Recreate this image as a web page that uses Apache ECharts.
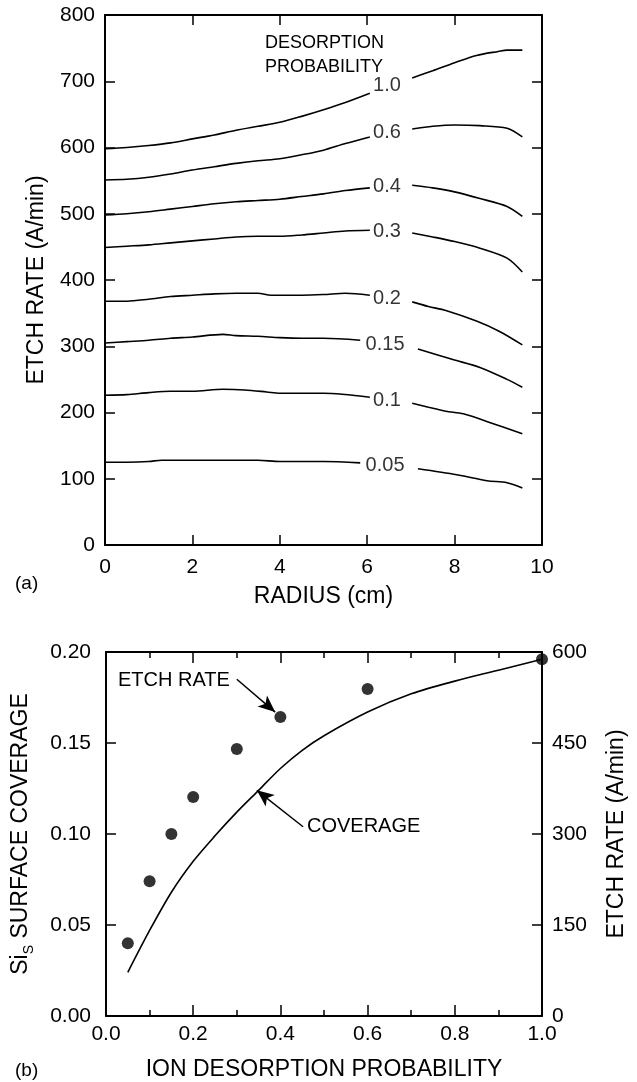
<!DOCTYPE html>
<html>
<head>
<meta charset="utf-8">
<script src="https://cdn.jsdelivr.net/npm/echarts@6/dist/echarts.min.js"></script>
<style>
html, body { margin: 0; padding: 0; background: #fff; }
#chart { width: 637px; height: 1082px; }
</style>
</head>
<body>
<div id="chart"></div>
<script>
// (a) Etch rate versus radius, one curve per desorption probability.
// Each curve is drawn in two pieces with its label in the gap.
const curveLabels = ['1.0', '0.6', '0.4', '0.3', '0.2', '0.15', '0.1', '0.05'];

const p100Inner = [[0,598],[0.5,600],[1,603],[1.5,607],[2,613],[2.5,619],[3,626],[3.5,632],[4,638],[4.5,647],[5,657],[5.5,668],[6.06,682]];
const p100Outer = [[7.03,705],[7.5,716],[8,728],[8.5,739],[9,745],[9.2,747],[9.55,747]];

const p060Inner = [[0,551],[0.5,552],[1,555],[1.5,560],[2,566],[2.5,571],[3,576],[3.5,580],[4,583],[4.5,589],[5,596],[5.5,606],[6.06,616]];
const p060Outer = [[7.03,628],[7.5,632],[8,634],[8.58,633],[9.2,629],[9.55,616]];

const p040Inner = [[0,498],[0.5,500],[1,503],[1.5,507],[2,511],[2.5,515],[3,518],[3.5,520],[4,522],[4.5,526],[5,530],[5.5,535],[6.06,539]];
const p040Outer = [[7.03,543],[7.5,539],[8,533],[8.58,523],[9.2,511],[9.55,496]];

const p030Inner = [[0,449],[0.5,451],[1,453],[1.5,456],[2,459],[2.5,462],[3,465],[3.5,466],[4,466],[4.5,468],[5,471],[5.5,474],[6.06,475]];
const p030Outer = [[7.03,471],[7.5,465],[8,458],[8.58,448],[9.2,433],[9.55,412]];

const p020Inner = [[0,368],[0.5,368],[1,371],[1.5,375],[2,377],[2.5,379],[3,380],[3.5,380],[3.8,377],[4.5,377],[5,378],[5.5,380],[6.06,377]];
const p020Outer = [[7.03,367],[7.4,360],[7.8,354],[8.5,338],[9.04,322],[9.55,302]];

const p015Inner = [[0,305],[0.5,307],[1,309],[1.5,312],[2,314],[2.7,318],[3,316],[3.5,315],[4,313],[4.5,312],[5,312],[5.84,309]];
const p015Outer = [[7.16,296],[7.96,280],[8.58,268],[9.2,250],[9.55,238]];

const p010Inner = [[0,226],[0.5,227],[1,230],[1.5,232],[2,232],[2.7,235],[3.2,234],[3.7,231],[4,229],[4.5,229],[5,229],[6.06,223]];
const p010Outer = [[7.03,214],[7.4,208],[7.8,202],[8.2,198],[8.8,185],[9.55,168]];

const p005Inner = [[0,125],[0.5,125],[1,126],[1.3,128],[2,128],[3,128],[3.5,128],[4,126],[4.5,126],[5,126],[5.84,124]];
const p005Outer = [[7.16,115],[8.05,106],[8.74,97],[9.2,94],[9.55,86]];

// (b) Etch rate and Si_s surface coverage versus ion desorption probability.
const probability = [0.05, 0.1, 0.15, 0.2, 0.3, 0.4, 0.6, 1.0];
const etchRate = [120, 222, 300, 361, 440, 493, 539, 588];

const coverageProb = [0.05, 0.10, 0.15, 0.20, 0.25, 0.30, 0.35, 0.40, 0.45, 0.50, 0.60, 0.70, 0.80, 0.90, 1.00];
const coverage = [0.024, 0.047, 0.068, 0.085, 0.099, 0.112, 0.124, 0.136, 0.146, 0.154, 0.167, 0.177, 0.184, 0.190, 0.196];

// Annotation arrows, in data units of panel (b): [tail, head]
const etchArrow = [[0.300, 0.185], [0.388, 0.167]];
const coverageArrow = [[0.452, 0.104], [0.346, 0.124]];

const curves = [
  { label: curveLabels[0], inner: p100Inner, outer: p100Outer },
  { label: curveLabels[1], inner: p060Inner, outer: p060Outer },
  { label: curveLabels[2], inner: p040Inner, outer: p040Outer },
  { label: curveLabels[3], inner: p030Inner, outer: p030Outer },
  { label: curveLabels[4], inner: p020Inner, outer: p020Outer },
  { label: curveLabels[5], inner: p015Inner, outer: p015Outer },
  { label: curveLabels[6], inner: p010Inner, outer: p010Outer },
  { label: curveLabels[7], inner: p005Inner, outer: p005Outer }
];

const FONT = '"Liberation Sans", Arial, Helvetica, sans-serif';
const INK = '#000';

const line = { show: true, onZero: false, lineStyle: { color: INK, width: 2 } };
const tick = (len) => ({ show: true, inside: true, length: len, lineStyle: { color: INK, width: 1.5 } });
const minor = { show: true, splitNumber: 2, length: 6, lineStyle: { color: INK, width: 1.5 } };
const tickText = (margin, fmt) => ({
  show: true, margin: margin, fontSize: 21, color: INK, fontFamily: FONT,
  formatter: fmt
});
const nameText = { fontSize: 23, color: INK, fontFamily: FONT };
const noLabel = { show: false };
const noSplit = { show: false };

const series = [];
curves.forEach((c) => {
  [c.inner, c.outer].forEach((seg) => {
    series.push({
      type: 'line', xAxisIndex: 0, yAxisIndex: 0,
      data: seg, showSymbol: false, smooth: 0.3,
      lineStyle: { color: INK, width: 1.6 }, silent: true
    });
  });
});

// curve labels sit in the gap between the two pieces
series.push({
  type: 'scatter', xAxisIndex: 0, yAxisIndex: 0,
  symbolSize: 0, silent: true,
  data: curves.map((c) => {
    const a = c.inner[c.inner.length - 1];
    const b = c.outer[0];
    return { name: c.label, value: [(a[0] + b[0]) / 2, (a[1] + b[1]) / 2] };
  }),
  label: {
    show: true, position: 'inside', formatter: '{b}', offset: [-4, 0],
    fontSize: 20, color: INK, fontFamily: FONT
  }
});

series.push({
  type: 'line', xAxisIndex: 2, yAxisIndex: 2,
  data: coverageProb.map((p, i) => [p, coverage[i]]),
  showSymbol: false, smooth: 0.3, silent: true,
  lineStyle: { color: INK, width: 1.6 },
  markLine: {
    silent: true, animation: false,
    symbol: ['none', 'arrow'], symbolSize: [11, 17],
    lineStyle: { color: INK, width: 1.5, type: 'solid' },
    itemStyle: { color: INK },
    label: { show: false },
    emphasis: { disabled: true },
    data: [
      [{ coord: etchArrow[0] }, { coord: etchArrow[1] }],
      [{ coord: coverageArrow[0] }, { coord: coverageArrow[1] }]
    ]
  }
});

series.push({
  type: 'scatter', xAxisIndex: 2, yAxisIndex: 3,
  data: probability.map((p, i) => [p, etchRate[i]]),
  symbol: 'circle', symbolSize: 12, silent: true, clip: false,
  itemStyle: { color: INK }
});

const option = {
  animation: false,
  backgroundColor: '#fff',
  textStyle: { fontFamily: FONT },
  grid: [
    { left: 105, width: 437, top: 15, height: 530, outerBoundsMode: 'none' },
    { left: 106, width: 436, top: 652, height: 364, outerBoundsMode: 'none' }
  ],
  xAxis: [
    {
      gridIndex: 0, type: 'value', min: 0, max: 10, interval: 2,
      axisLine: line, axisTick: tick(10), axisLabel: tickText(12), splitLine: noSplit,
      name: 'RADIUS (cm)', nameLocation: 'middle', nameGap: 40, nameTextStyle: nameText
    },
    {
      gridIndex: 0, type: 'value', position: 'top', min: 0, max: 10, interval: 2,
      axisLine: line, axisTick: tick(10), axisLabel: noLabel, splitLine: noSplit
    },
    {
      gridIndex: 1, type: 'value', min: 0, max: 1, interval: 0.2,
      axisLine: line, axisTick: tick(11), minorTick: minor,
      axisLabel: tickText(8, (v) => v.toFixed(1)), splitLine: noSplit, minorSplitLine: noSplit,
      name: 'ION DESORPTION PROBABILITY', nameLocation: 'middle', nameGap: 42, nameTextStyle: nameText
    },
    {
      gridIndex: 1, type: 'value', position: 'top', min: 0, max: 1, interval: 0.2,
      axisLine: line, axisTick: tick(11), minorTick: minor,
      axisLabel: noLabel, splitLine: noSplit, minorSplitLine: noSplit
    }
  ],
  yAxis: [
    {
      gridIndex: 0, type: 'value', min: 0, max: 800, interval: 100,
      axisLine: line, axisTick: tick(10), axisLabel: tickText(10), splitLine: noSplit,
      name: 'ETCH RATE (A/min)', nameLocation: 'middle', nameGap: 57, nameTextStyle: nameText
    },
    {
      gridIndex: 0, type: 'value', position: 'right', min: 0, max: 800, interval: 100,
      axisLine: line, axisTick: tick(10), axisLabel: noLabel, splitLine: noSplit
    },
    {
      gridIndex: 1, type: 'value', min: 0, max: 0.2, interval: 0.05,
      axisLine: line, axisTick: tick(10), axisLabel: tickText(15, (v) => v.toFixed(2)), splitLine: noSplit,
      name: '{m|Si}{s|S}{m| SURFACE COVERAGE}', nameLocation: 'middle', nameGap: 70,
      nameTextStyle: {
        color: INK, fontFamily: FONT,
        rich: {
          m: { fontSize: 23, lineHeight: 30, color: INK, fontFamily: FONT },
          s: { fontSize: 14, lineHeight: 14, verticalAlign: 'bottom', color: INK, fontFamily: FONT }
        }
      }
    },
    {
      gridIndex: 1, type: 'value', position: 'right', min: 0, max: 600, interval: 150,
      axisLine: line, axisTick: tick(10), axisLabel: tickText(10), splitLine: noSplit,
      name: 'ETCH RATE (A/min)', nameLocation: 'middle', nameGap: 63, nameTextStyle: nameText
    }
  ],
  graphic: [
    {
      type: 'text', left: 265, top: 31, silent: true,
      style: { text: 'DESORPTION\nPROBABILITY', fontSize: 18, lineHeight: 24, fill: INK, fontFamily: FONT }
    },
    {
      type: 'text', left: 118, top: 670, silent: true,
      style: { text: 'ETCH RATE', fontSize: 20, fill: INK, fontFamily: FONT }
    },
    {
      type: 'text', left: 307, top: 816, silent: true,
      style: { text: 'COVERAGE', fontSize: 20, fill: INK, fontFamily: FONT }
    },
    {
      type: 'text', left: 15, top: 574, silent: true,
      style: { text: '(a)', fontSize: 19, fill: INK, fontFamily: FONT }
    },
    {
      type: 'text', left: 15, top: 1061, silent: true,
      style: { text: '(b)', fontSize: 19, fill: INK, fontFamily: FONT }
    }
  ],
  series: series
};

const chart = echarts.init(document.getElementById('chart'), null, { renderer: 'canvas' });
chart.setOption(option);
</script>
</body>
</html>
